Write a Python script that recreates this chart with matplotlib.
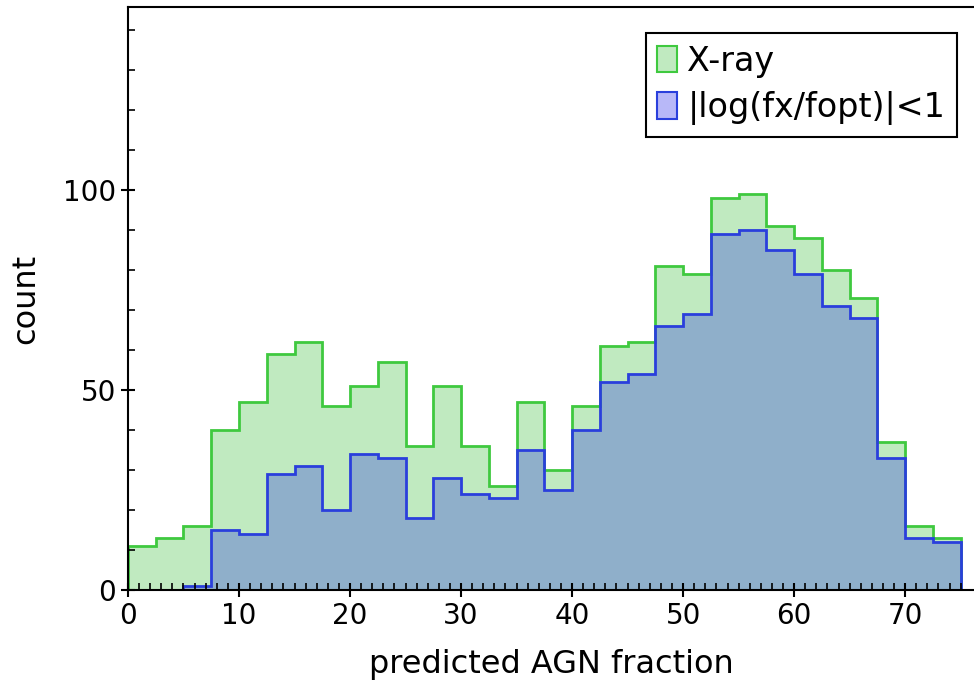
import numpy as np
import matplotlib
matplotlib.use("Agg")
import matplotlib.pyplot as plt
from matplotlib.patches import Patch

# bin edges: 0 to 75 in steps of 2.5
edges = np.arange(0, 75.01, 2.5)

# X-ray counts
xray = [11, 13, 16, 40, 47, 59, 62, 46, 51, 57,
        36, 51, 36, 26, 47, 30, 46, 61, 62, 81,
        79, 98, 99, 91, 88, 80, 73, 37, 16, 13]

# |log(fx/fopt)|<1 counts
ratio = [0, 0, 1, 15, 14, 29, 31, 20, 34, 33,
         18, 28, 24, 23, 35, 25, 40, 52, 54, 66,
         69, 89, 90, 85, 79, 71, 68, 33, 13, 12]

labels = ["X-ray", "|log(fx/fopt)|<1"]

plt.rcParams['font.family'] = 'DejaVu Sans'

fig = plt.figure(figsize=(9.74, 6.85), dpi=100)
ax = fig.add_axes([0.1314, 0.1387, 0.8686, 0.8511])

# green histogram
ax.stairs(xray, edges, fill=True, color="#c0eac0", zorder=0.5)
ax.stairs(xray, edges, color="#3fc93f", linewidth=2.0, baseline=0, zorder=0.7)
# blue histogram
ax.stairs(ratio, edges, fill=True, color="#8fafca", zorder=0.6)
ax.stairs(ratio, edges, color="#2a3fdc", linewidth=2.0, baseline=0, zorder=0.8)
ax.set_axisbelow(False)  # ticks on top of the fill

ax.set_xlim(0, 76.2)
ax.set_ylim(0, 145.7)
ax.set_xticks(np.arange(0, 71, 10))
ax.set_yticks([0, 50, 100])
ax.set_xticks(np.arange(0, 76, 1), minor=True)
ax.set_yticks(np.arange(0, 146, 10), minor=True)
ax.tick_params(which="major", direction="inout", length=10, width=1.5, labelsize=20)
ax.tick_params(which="minor", direction="in", length=5, width=1.2)
ax.spines["right"].set_visible(False)
for s in ["left", "bottom", "top"]:
    ax.spines[s].set_linewidth(1.5)

ax.set_xlabel("predicted AGN fraction", fontsize=23, labelpad=14)
ax.set_ylabel("count", fontsize=23, labelpad=16)

handles = [Patch(facecolor="#c0eac0", edgecolor="#3fc93f", linewidth=1.5),
           Patch(facecolor="#b8b8f8", edgecolor="#2a3fdc", linewidth=1.5)]
leg = ax.legend(handles, labels, loc="upper right", fontsize=24,
                handlelength=0.6, handleheight=0.85, handletextpad=0.3,
                fancybox=False, edgecolor="black", framealpha=1,
                borderaxespad=0, borderpad=0.35, labelspacing=0.4,
                bbox_to_anchor=(957 / 974, 1 - 33 / 685),
                bbox_transform=fig.transFigure)
leg.get_frame().set_linewidth(1.5)

fig.savefig("out.png", dpi=100)
